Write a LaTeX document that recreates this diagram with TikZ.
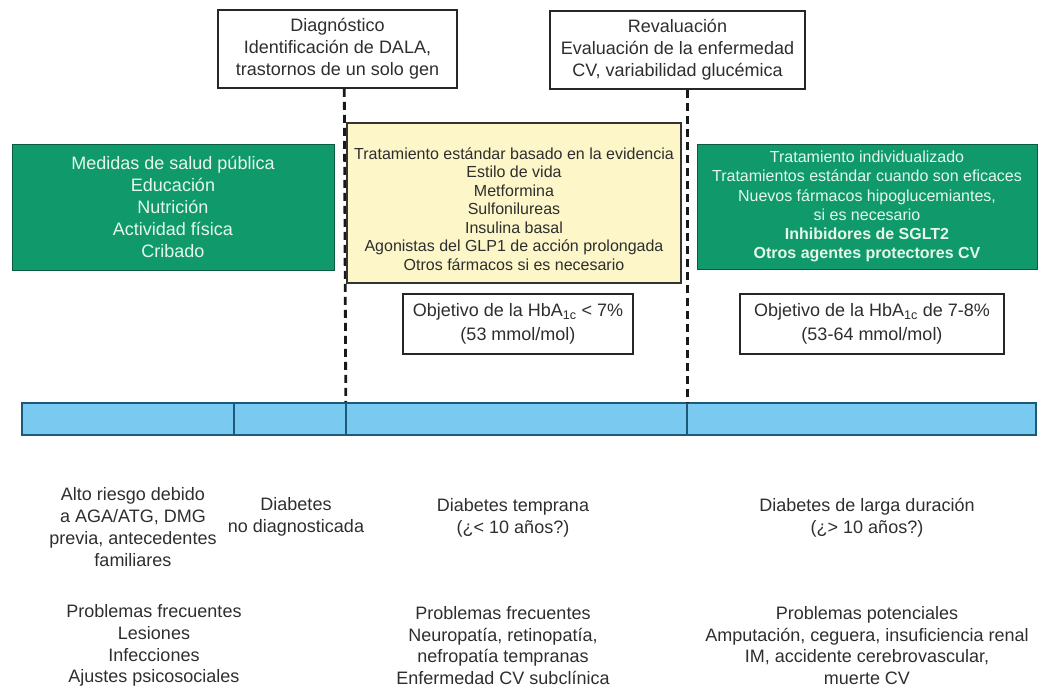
\documentclass[tikz,border=0pt]{standalone}
\usepackage{fontspec}
\setmainfont{Liberation Sans}
\definecolor{textgray}{HTML}{2E2E2E}
\definecolor{boxgreen}{HTML}{109A6C}
\definecolor{greentext}{HTML}{E4F7EA}
\definecolor{paleyellow}{HTML}{FCF6C8}
\definecolor{barblue}{HTML}{79C9F0}
\definecolor{barline}{HTML}{1B5A7A}
\begin{document}
\begin{tikzpicture}[x=1pt,y=-1pt,
  txt/.style={text=textgray, align=center, inner sep=0pt, font=\fontsize{18}{21.8}\selectfont},
  stagebox/.style={draw=black!85, line width=1.8pt, fill=white, text=textgray, align=center,
    inner sep=0pt, font=\fontsize{18}{22}\selectfont},
  goalbox/.style={draw=black!85, line width=1.6pt, fill=white, text=textgray, align=center,
    inner sep=0pt, font=\fontsize{18}{23.5}\selectfont},
  greenbox/.style={fill=boxgreen, draw=boxgreen!60!black, line width=1pt, text=greentext,
    align=center, inner sep=0pt},
  stdbox/.style={fill=paleyellow, draw=black!80, line width=1.4pt, inner sep=0pt},
  barseg/.style={fill=barblue, draw=barline, line width=1.6pt, inner sep=0pt, minimum height=32pt},
  phase/.style={draw=black!90, line width=2.8pt, dash pattern=on 8pt off 5pt}]
\useasboundingbox (0,0) rectangle (1038,689);

% check-point boxes
\node[stagebox, minimum width=239pt, minimum height=78pt] (diag) at (337.5,49)
  {Diagnóstico\\Identificación de DALA,\\trastornos de un solo gen};
\node[stagebox, minimum width=255pt, minimum height=78pt] (reval) at (677.5,50)
  {Revaluación\\Evaluación de la enfermedad\\CV, variabilidad glucémica};

% timeline bar (segment edges at 22, 234, 346, 687, 1036)
\node[barseg, minimum width=212pt] (seg1) at (128,419) {};
\node[barseg, minimum width=112pt] (seg2) at (290,419) {};
\node[barseg, minimum width=341pt] (seg3) at (516.5,419) {};
\node[barseg, minimum width=349pt] (seg4) at (861.5,419) {};

% dashed phase lines down to the bar
\draw[phase] ([xshift=-2.5pt]seg2.north east |- diag.south) -- ([xshift=-1pt]seg2.north east);
\draw[phase] (seg3.north east |- reval.south) -- (seg3.north east);

% treatment boxes
\node[greenbox, minimum width=322pt, minimum height=126pt,
  font=\fontsize{18}{22.2}\selectfont] (prev) at (173,207)
  {Medidas de salud pública\\Educación\\Nutrición\\Actividad física\\Cribado};

\node[stdbox, minimum width=334pt, minimum height=160pt] (std) at (514,203) {};
\node[txt, font=\fontsize{16}{18.5}\selectfont] (stdtext) at (514,209)
  {Tratamiento estándar basado en la evidencia\\Estilo de vida\\Metformina\\Sulfonilureas\\%
   Insulina basal\\Agonistas del GLP1 de acción prolongada\\Otros fármacos si es necesario};

\node[greenbox, minimum width=340pt, minimum height=125pt,
  font=\fontsize{16}{19.2}\selectfont] (indiv) at (867,206.5)
  {Tratamiento individualizado\\Tratamientos estándar cuando son eficaces\\%
   Nuevos fármacos hipoglucemiantes,\\si es necesario\\\textbf{Inhibidores de SGLT2}\\%
   \textbf{Otros agentes protectores CV}};

% glycaemic targets
\node[goalbox, minimum width=230pt, minimum height=60pt] (goal1) at (518,324)
  {Objetivo de la HbA\textsubscript{1c} < 7\%\\(53 mmol/mol)};
\node[goalbox, minimum width=264pt, minimum height=60pt] (goal2) at (872,324)
  {Objetivo de la HbA\textsubscript{1c} de 7-8\%\\(53-64 mmol/mol)};

% disease stages
\node[txt] (risk) at (133,527)
  {Alto riesgo debido\\a AGA/ATG, DMG\\previa, antecedentes\\familiares};
\node[txt] (undx) at (296,517) {Diabetes\\no diagnosticada};
\node[txt] (early) at (513,518) {Diabetes temprana\\(¿< 10 años?)};
\node[txt] (late) at (867,518) {Diabetes de larga duración\\(¿> 10 años?)};

% problems of each stage
\node[txt] (prob1) at (154,645.5)
  {Problemas frecuentes\\Lesiones\\Infecciones\\Ajustes psicosociales};
\node[txt] (prob2) at (503,645.5)
  {Problemas frecuentes\\Neuropatía, retinopatía,\\nefropatía tempranas\\Enfermedad CV subclínica};
\node[txt] (prob3) at (867,645.5)
  {Problemas potenciales\\Amputación, ceguera, insuficiencia renal\\IM, accidente cerebrovascular,\\muerte CV};
\end{tikzpicture}
\end{document}
